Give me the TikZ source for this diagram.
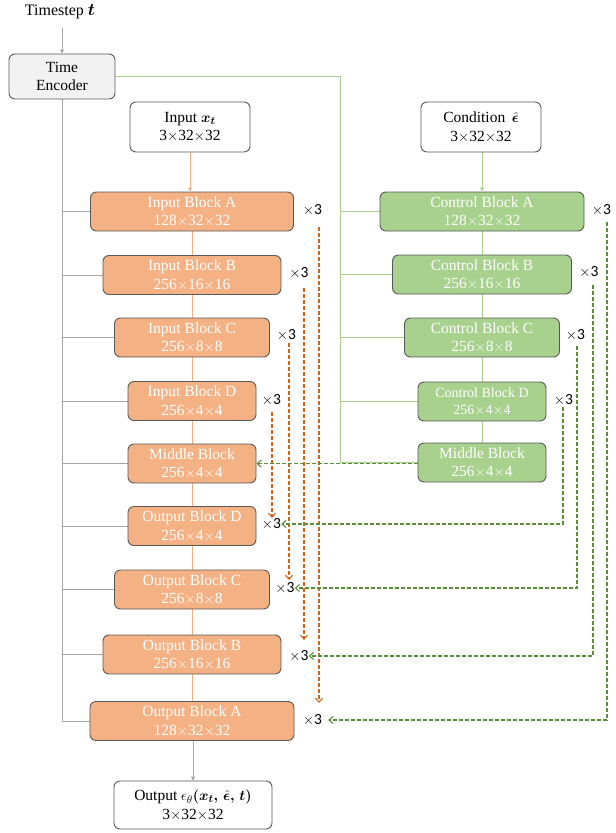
\documentclass[tikz,border=0pt]{standalone}
\usepackage{amsmath,bm}
\usepackage{fontspec}
\setmainfont{Liberation Serif}
\newfontfamily\tfont{Carlito}
\usetikzlibrary{arrows.meta,backgrounds}
\definecolor{orfill}{HTML}{F4B183}
\definecolor{grfill}{HTML}{A9D18E}
\definecolor{edgec}{HTML}{595959}
\definecolor{lgray}{HTML}{A6A6A6}
\definecolor{ordash}{HTML}{D2651A}
\definecolor{grdash}{HTML}{5A8F38}
\definecolor{tefill}{HTML}{F2F2F2}
\tikzset{
  blk/.style={draw=edgec, rounded corners=6pt, line width=0.9pt, align=center, inner sep=0pt,
     font=\fontsize{15.5}{18.5}\selectfont},
  oblk/.style={blk, fill=orfill, text=white},
  gblk/.style={blk, fill=grfill, text=white},
  wblk/.style={blk, fill=white, text=black},
  times/.style={font=\tfont\fontsize{15.5}{18}\selectfont, inner sep=0pt},
  gline/.style={draw=lgray, line width=1pt},
  oline/.style={draw=orfill, line width=1pt},
  grline/.style={draw=grfill, line width=1pt},
  tip/.style={-{Triangle[length=4pt,width=4pt]}},
  odash/.style={draw=ordash, line width=1.1pt, dash pattern=on 4pt off 2pt, -{Straight Barb[length=4pt,width=7pt]}},
  gdash/.style={draw=grdash, line width=1.1pt, dash pattern=on 4pt off 2pt, -{Straight Barb[length=4pt,width=7pt]}},
}
\begin{document}
\begin{tikzpicture}[x=1pt,y=-1pt]
\useasboundingbox (0,0) rectangle (616,833);
% top
\node[font=\fontsize{16}{18}\selectfont, inner sep=0pt] (ts) at (60,12) {Timestep $\boldsymbol{t}$};
\node[blk, fill=tefill, minimum width=106pt, minimum height=45pt] (te) at (62,76.5) {Time\\Encoder};
\node[wblk, minimum width=120pt, minimum height=50pt] (inx) at (190,127) {Input $\boldsymbol{x_t}$\\3$\times$32$\times$32};
\node[wblk, minimum width=120pt, minimum height=50pt] (cond) at (481,127) {Condition\, $\boldsymbol{\hat{\epsilon}}$\\3$\times$32$\times$32};
% orange column
\node[oblk, minimum width=203pt, minimum height=39pt] (ia) at (192,211.5) {Input Block A\\128$\times$32$\times$32};
\node[oblk, minimum width=178pt, minimum height=39pt] (ib) at (192,275) {Input Block B\\256$\times$16$\times$16};
\node[oblk, minimum width=155pt, minimum height=39pt] (ic) at (192,337.5) {Input Block C\\256$\times$8$\times$8};
\node[oblk, minimum width=128pt, minimum height=39pt] (id) at (192,401) {Input Block D\\256$\times$4$\times$4};
\node[oblk, minimum width=128pt, minimum height=39pt] (om) at (192,463.5) {Middle Block\\256$\times$4$\times$4};
\node[oblk, minimum width=128pt, minimum height=39pt] (od) at (192,526) {Output Block D\\256$\times$4$\times$4};
\node[oblk, minimum width=155pt, minimum height=39pt] (oc) at (192,589.5) {Output Block C\\256$\times$8$\times$8};
\node[oblk, minimum width=178pt, minimum height=39pt] (ob) at (192,654.5) {Output Block B\\256$\times$16$\times$16};
\node[oblk, minimum width=204pt, minimum height=39pt] (oa) at (192,721) {Output Block A\\128$\times$32$\times$32};
\node[wblk, minimum width=158pt, minimum height=48pt] (out) at (193,805) {Output $\epsilon_\theta\boldsymbol{(x_t,\,\hat{\epsilon},\,t)}$\\3$\times$32$\times$32};
% green column
\node[gblk, minimum width=204pt, minimum height=39pt] (ca) at (482,211.5) {Control Block A\\128$\times$32$\times$32};
\node[gblk, minimum width=179pt, minimum height=39pt] (cb) at (482,274.5) {Control Block B\\256$\times$16$\times$16};
\node[gblk, minimum width=155pt, minimum height=39pt] (cc) at (482,337.5) {Control Block C\\256$\times$8$\times$8};
\node[gblk, minimum width=128pt, minimum height=39pt, font=\fontsize{14}{17}\selectfont] (cd) at (482,401.5) {Control Block D\\256$\times$4$\times$4};
\node[gblk, minimum width=128pt, minimum height=39pt] (cm) at (482,462.5) {Middle Block\\256$\times$4$\times$4};
% x3 labels
\node[times] (xia) at (312.5,210) {$\times$3};
\node[times] (xib) at (299,273) {$\times$3};
\node[times] (xic) at (286.5,335) {$\times$3};
\node[times] (xid) at (271.5,400) {$\times$3};
\node[times] (xod) at (271.5,524) {$\times$3};
\node[times] (xoc) at (285,588) {$\times$3};
\node[times] (xob) at (299,656) {$\times$3};
\node[times] (xoa) at (312.5,720) {$\times$3};
\node[times] (xca) at (601.5,210) {$\times$3};
\node[times] (xcb) at (589,272) {$\times$3};
\node[times] (xcc) at (575.5,335) {$\times$3};
\node[times] (xcd) at (563.5,400) {$\times$3};
\begin{scope}[on background layer]
% gray lines
\draw[gline, tip] (te.north |- 0,28) -- (te.north);
\coordinate (gb) at (62,721);
\draw[gline] (te.south) -- (gb) -- (oa.west);
\foreach \n in {ia,ib,ic,id,om,od,oc,ob}{\draw[gline] (te.south |- \n.west) -- (\n.west);}
\draw[gline, tip] (oa.south -| out.north) -- (out.north);
% orange line
\draw[oline, tip] (inx.south) -- (inx.south |- ia.north);
\draw[oline] (ia.south -| 192,0) -- (oa.north -| 192,0);
% green lines
\coordinate (gc) at (340,76.5);
\draw[grline] (te.east) -- (gc) -- (gc |- cm.west) -- (cm.west);
\foreach \n in {ca,cb,cc,cd}{\draw[grline] (gc |- \n.west) -- (\n.west);}
\draw[grline, tip] (cond.south -| ca.north) -- (ca.north);
\draw[grline] (ca.south) -- (cm.north);
\end{scope}
% orange dashed skip arrows
\coordinate (sa) at (319,227); \coordinate (ea) at (319,703);
\coordinate (sb) at (304,288); \coordinate (eb) at (304,640);
\coordinate (sc) at (289,343); \coordinate (ec) at (289,580);
\coordinate (sd) at (272,412); \coordinate (ed) at (272,518);
\draw[odash] (sa) -- (ea);
\draw[odash] (sb) -- (eb);
\draw[odash] (sc) -- (ec);
\draw[odash] (sd) -- (ed);
% green dashed control arrows
\coordinate (gd) at (563,407); \coordinate (gcc) at (577,346);
\coordinate (gbb) at (593,285); \coordinate (gaa) at (607,222);
\draw[gdash] (cm.west |- 0,463.5) -- (om.east);
\draw[gdash] (gd) -- (gd |- xod.east) -- (xod.east);
\draw[gdash] (gcc) -- (gcc |- xoc.east) -- (xoc.east);
\draw[gdash] (gbb) -- (gbb |- xob.east) -- (xob.east);
\draw[gdash] (gaa) -- (gaa |- xoa.east) -- ([xshift=6pt]xoa.east);
\end{tikzpicture}
\end{document}
